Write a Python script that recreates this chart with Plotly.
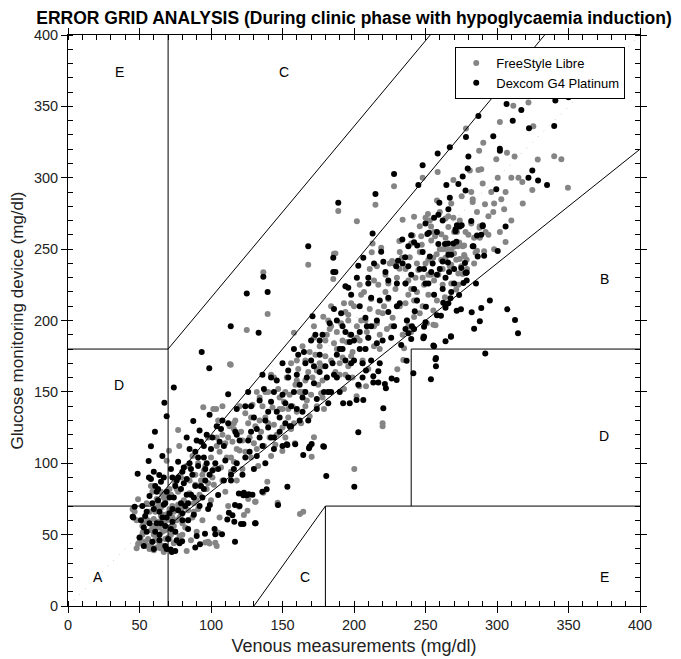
import plotly.graph_objects as go

# ---------------- data (mg/dl) ----------------
libre_venous = [
    45.2, 48, 49, 50.6, 49, 48, 46.6, 52.3, 52, 49.9,
    55, 57, 60, 64.6, 67, 67, 53, 54, 56, 58,
    59, 60, 61, 62, 63, 64, 65, 66, 67, 68,
    69, 70, 71, 72, 73, 74, 55, 57, 59, 62,
    64, 66, 68, 70, 72, 58, 61, 63, 65, 67,
    71, 73, 74, 75, 76, 77, 78, 79, 80, 81,
    82, 83, 84, 85, 86, 87, 88, 89, 90, 91,
    92, 93, 94, 95, 96, 97, 98, 99, 100, 101,
    103, 104, 105, 76, 78, 80, 83, 85, 87, 89,
    69, 70.6, 77, 77.8, 65, 59, 94.6, 101.6, 103.6, 91,
    102, 104, 106, 107, 108, 110, 111, 112, 113, 114,
    115, 116, 117, 118, 119.6, 120, 121, 122, 123, 124,
    125.5, 126, 127, 128, 129, 130.8, 131, 132, 133, 134,
    135, 136.6, 137, 138, 139.4, 140, 141, 142, 143, 144,
    145, 146.6, 146.6, 147, 148, 149.9, 150, 151, 152, 153,
    113.8, 113.3, 125, 139.6, 136.6, 116, 105, 131.2, 98, 108,
    154, 155, 156, 157, 158, 158.7, 159, 160, 161, 162.2,
    163, 164.5, 165, 166, 167, 168, 169, 170.4, 171, 172,
    173, 174, 175, 176, 177, 178, 178.5, 179, 180, 181,
    182, 183, 184, 185.5, 186, 187, 188, 189, 190, 191,
    192, 193, 194, 195, 196, 197, 198, 199, 200.2, 201.8,
    202, 203.7, 204, 205, 206, 207, 208.4, 209, 210, 211,
    212.4, 213, 214, 215, 216, 217, 218, 219, 220, 220,
    221, 222, 223, 224, 225, 226.6, 227, 228, 229, 230.3,
    231.7, 231.8, 232, 233.5, 234, 234.5, 235, 236, 237, 238,
    239, 240, 241, 242, 242, 243, 244, 245, 246, 247,
    247.4, 248, 248.5, 249, 250, 251, 251.7, 252, 253, 253.9,
    255.4, 255.5, 255.5, 256.7, 257, 257.8, 258.5, 259, 260, 261,
    261, 262, 263.6, 264, 265, 266, 266, 267, 268, 268,
    269.5, 269.5, 270.4, 271.5, 271.5, 272.7, 273, 273, 273.6, 275,
    275.3, 276, 276, 277, 277, 277.3, 278.3, 278.8, 280, 281,
    282, 282, 283, 283, 285, 286, 287, 287.5, 287.8, 288,
    289, 290.4, 291, 291.6, 294, 297.4, 299.5, 300.5, 302, 306,
    307, 311.4, 312.3, 315, 317.7, 322, 324.7, 325.4, 328.5, 340,
    345, 349.6, 296, 303, 310, 318, 292, 284, 298, 305,
    236, 240, 244, 248, 252, 256, 260, 264, 268, 272,
    238, 246, 254, 258, 262, 270, 274, 279, 284, 288,
    160, 166, 172, 178, 184, 190, 196, 202, 208, 214,
    163, 169, 175, 181, 187, 193, 199, 205, 211, 217,
    52, 54, 56, 58, 60, 62, 64, 66, 68, 70,
    72, 74, 76, 78, 80, 82, 84, 86, 88, 90,
    61, 63, 65, 67, 69, 71, 73, 75, 77, 79,
    92, 94, 96, 98, 100, 102, 104, 106, 108, 110,
    112, 116, 120, 124, 128, 132, 136, 140, 144, 148,
    114, 118, 122, 126, 130, 134, 138, 142, 146, 150,
    152, 156, 160, 164, 168, 172, 176, 180, 184, 188,
    154, 158, 162, 166, 170, 174, 178, 182, 186, 190,
    192, 196, 200, 204, 208, 212, 216, 220, 224, 228,
    194, 198, 202, 206, 210, 214, 218, 222, 226, 230,
    232, 236, 240, 244, 248, 252, 256, 260, 264, 268,
    234, 238, 242, 246, 250, 254, 258, 262, 266, 270,
    274, 278, 282, 286, 290, 294, 298, 302, 306, 310,
]
libre_device = [
    67.7, 40.4, 43.5, 47, 74.7, 60, 66, 51.6, 50, 44.6,
    42, 40, 39, 40.5, 38.5, 37.8, 58, 62, 47, 53,
    56, 61, 46, 69, 49, 44, 57, 52, 64, 47,
    60, 55, 68, 50, 62, 44, 72, 66, 80, 75,
    71, 78, 73, 65, 78, 84, 54, 59, 63, 58,
    47, 56, 66, 52, 60, 71, 49, 64, 58, 74,
    55, 38.5, 67, 79, 46, 62, 72, 85, 52, 68,
    78, 88, 60, 95, 44.5, 82, 45, 43.8, 74, 90,
    44.3, 42, 51.5, 82, 91, 69, 98, 88, 105, 92,
    101.8, 108.8, 123.3, 112, 80, 84, 139.2, 138, 138, 100,
    85, 112, 62, 97, 120, 80, 104, 70, 126, 94,
    115, 101, 130, 88, 69.5, 109, 122, 96, 63.7, 135,
    66.7, 75, 118, 104, 141, 73, 126, 110, 98, 146,
    122, 79.4, 112, 132, 87.1, 150, 118, 105, 139, 127,
    113, 72.4, 71, 152, 138, 108.6, 125, 143, 118, 160,
    169, 169.3, 193.3, 204.5, 233.8, 128, 130, 73, 118, 140,
    132, 148, 124, 140, 191.5, 114, 155, 136, 166, 64.4,
    128, 66, 150, 172, 144, 239, 133, 104.6, 160, 118.2,
    176, 140, 155, 182, 149, 168, 202.7, 138, 186, 160,
    150, 194, 172, 229, 246.8, 247, 180, 276.7, 162, 198,
    174, 152, 206, 185, 168, 190, 212, 178, 96, 147,
    269.5, 154, 186, 200, 172, 220, 154, 192, 166, 208,
    247.8, 254, 182, 281, 198, 225, 190, 251, 128, 126,
    210, 232, 194, 215, 240, 241.7, 202, 294, 222, 165.8,
    255.7, 236.2, 210, 244, 270.6, 172.3, 180.5, 226, 200, 218,
    244.3, 192, 259.5, 272.7, 202.5, 230, 214, 235.4, 248, 259,
    253, 300, 189, 225, 240, 198, 274.6, 242.6, 270, 265.8,
    244, 197, 207, 259, 196.6, 246.4, 304, 232, 276, 242.6,
    260.5, 225, 216.3, 271.5, 250, 273, 265.5, 238, 239, 282,
    272, 298.4, 251.8, 221.7, 242.6, 252, 225, 233, 254.7, 238,
    287, 252, 232.6, 245.9, 252.6, 245, 334.5, 242.6, 260, 305,
    268, 269, 285, 283, 247.5, 248.8, 305.4, 319, 265, 266,
    306, 324.6, 248.5, 281.4, 273, 276, 313, 300, 339, 255,
    317.6, 350.5, 314.8, 300, 297, 352.8, 291.4, 336, 312.7, 315,
    313, 293, 290, 285, 270, 282, 262, 258, 250, 278,
    212, 222, 240, 230, 218, 228, 236, 244, 226, 262,
    196, 205, 232, 214, 250, 247, 243, 236, 240, 258,
    172, 158, 188, 158, 196, 180, 204, 196, 180, 228,
    150, 178, 166, 190, 164, 212, 160, 218, 236, 206,
    56, 45, 60, 43, 50, 41, 55, 42, 53, 48,
    61, 56, 68, 62, 50, 72, 60, 78, 66, 74,
    66, 73, 69, 76, 78, 82, 70, 86, 80, 90,
    84, 92, 98, 86, 104, 96, 118, 108, 88, 114,
    118, 124, 140, 108, 132, 150, 140, 128, 160, 146,
    104, 110, 116, 128, 114, 130, 150, 162, 120, 138,
    150, 170, 158, 182, 164, 196, 170, 175, 210, 192,
    138, 128, 150, 140, 148, 165, 146, 200, 184, 170,
    186, 200, 210, 225, 200, 215, 238, 205, 226, 240,
    162, 175, 188, 170, 188, 196, 180, 220, 196, 230,
    248, 236, 254, 220, 210, 232, 262, 250, 258, 250,
    190, 228, 214, 266, 272, 256, 284, 236, 248, 262,
    270, 262, 290, 276, 296, 260, 282, 262, 290, 300,
]

dexcom_venous = [
    45.7, 46.6, 45.2, 48.7, 53, 56.4, 56.6, 58, 58, 60.8,
    63.8, 67.4, 69, 74, 73, 69, 71.8, 72.6, 75, 79.8,
    50, 52, 54, 55, 57, 59, 60, 61, 62, 63,
    64, 65, 66, 67, 68, 69, 70, 71, 72, 73,
    74, 75, 76, 77, 78, 60, 62, 64, 66, 68,
    79, 80, 81, 82, 83, 84, 85, 86, 87.6, 88,
    89, 90, 91, 92.3, 93, 93.5, 94, 95, 95.8, 96,
    97, 98, 98.8, 99.2, 100, 101, 102.5, 103, 104, 105,
    77, 80, 83, 86, 89, 92, 95, 99, 84, 90,
    106, 107.7, 108, 109, 110, 111.4, 112, 112.5, 113.8, 115,
    116.3, 116.8, 116.8, 117, 119.5, 120, 121, 122.6, 122.7, 123,
    124, 125, 125, 126.4, 127, 129, 130, 130.8, 131.2, 133.3,
    134, 135.9, 136.6, 137, 138.9, 139.6, 140, 142, 144, 146,
    146.9, 148, 150, 153, 153.4, 153.4, 154, 156, 158.9, 118,
    114, 118, 126, 132, 138, 142, 128, 136, 144, 150,
    160, 162, 164.5, 165, 166, 168, 168.5, 169, 170.4, 171,
    172, 174, 176, 178.5, 179, 180.6, 181, 183, 185.5, 185.5,
    187, 188, 189, 190, 192.4, 194, 196, 197, 198, 200.2,
    201.8, 203, 203, 204, 206.5, 206.5, 208, 208.4, 210, 212,
    213, 213.5, 213.5, 215, 217, 217, 219, 220.5, 220.5, 221.6,
    155, 161, 167, 173, 179, 185, 191, 197, 203, 209,
    222.3, 224, 226.3, 228, 229.5, 229.8, 230.8, 233, 233.8, 235.8,
    236, 236.8, 237, 238, 238, 240, 240, 240.5, 241.5, 242,
    242, 242.5, 244.2, 245, 248, 248.5, 249, 249, 249, 250,
    250.3, 251.3, 252.4, 253, 253.8, 255, 255.5, 256, 256, 257,
    257.3, 257.3, 258, 258.5, 259, 259, 259.7, 260.8, 262, 262.4,
    263.6, 264, 264, 264, 264.6, 265.7, 265.8, 266, 266.5, 267,
    267, 267.5, 267.8, 267.8, 268, 269.5, 271, 271, 271.6, 271.8,
    272, 273, 273.5, 274, 274.8, 275, 275.3, 276, 276.5, 277.6,
    278, 278, 278.3, 278.5, 278.8, 278.8, 279.5, 280, 282, 282.3,
    283, 283.5, 284, 285.3, 286, 286.5, 287, 288, 289, 289,
    290, 290, 291, 291.8, 295, 297.4, 299.5, 300.5, 302, 302,
    306, 306.7, 307.2, 311, 312.6, 314.7, 317, 322.4, 324.7, 328.7,
    335, 340, 340.8, 350, 322, 258, 266, 262, 270, 250,
    152, 158, 164, 170, 176, 182, 188, 194, 200, 206,
    212, 218, 224, 230, 186, 192, 198, 204, 210, 216,
    51, 53, 55, 57, 59, 61, 63, 65, 67, 69,
    71, 73, 75, 77, 79, 81, 83, 85, 87, 89,
    60, 64, 68, 72, 76, 80, 84, 88, 92, 96,
    91, 93, 95, 97, 99, 101, 103, 105, 107, 109,
    112, 116, 120, 124, 128, 132, 136, 140, 144, 148,
    114, 118, 122, 126, 130, 134, 138, 142, 146, 150,
    152, 156, 160, 164, 168, 172, 176, 180, 184, 188,
    154, 158, 162, 166, 170, 174, 178, 182, 186, 190,
    192, 196, 200, 204, 208, 212, 216, 220, 224, 228,
    194, 198, 202, 206, 210, 214, 218, 222, 226, 230,
    232, 236, 240, 244, 248, 252, 256, 260, 264, 268,
    234, 238, 242, 246, 250, 254, 258, 262, 266, 270,
]
dexcom_device = [
    62, 69.6, 62.6, 92.7, 55, 101.6, 90, 89, 111.9, 122,
    91.8, 142.4, 133, 153, 90, 40, 39.5, 37.8, 38.5, 45.3,
    48, 70, 63, 52, 77, 45, 68, 84, 58, 74,
    50, 87, 62, 71, 56, 80, 47, 65, 96, 59,
    76, 52, 88, 67, 44, 94, 80, 66, 105, 72,
    82, 60, 97, 70, 89, 54, 110, 78, 129.6, 64,
    41, 49, 98, 43.2, 115, 178, 76, 104, 50.6, 88,
    120, 68, 166.5, 70.7, 110, 95, 54, 50.3, 126, 77.8,
    101, 94, 118, 96, 108, 123, 82, 134, 72, 116,
    115, 50.3, 130, 88, 102, 60.6, 148.3, 65.3, 196, 63.5,
    59, 45, 70.7, 122, 78.8, 70, 57.4, 77.6, 57.5, 79.4,
    140, 77.6, 219, 78.2, 108, 78, 132, 57.9, 58, 191.5,
    118, 80, 230.7, 152, 81.7, 220, 125, 143, 110, 158,
    70.7, 132, 148, 113.3, 83.6, 112.8, 165, 140, 113.3, 100,
    92, 138, 150, 105, 100, 160, 122, 162, 118, 170,
    138, 155, 105.8, 178, 150, 252, 110.5, 111.7, 113.5, 203,
    168, 145, 186, 111.9, 111.6, 91, 160, 198, 244, 234,
    234, 176, 282.5, 150, 142, 192, 223, 142, 170, 83.6,
    144.3, 121.7, 155, 180, 144.3, 244, 202, 165, 188, 216,
    261, 156.5, 161, 288.6, 156.5, 164.5, 248.2, 138.5, 241.2, 155.5,
    126, 176, 160, 190, 150, 170, 205, 185, 238.4, 196,
    152.5, 206, 159.4, 302.6, 238, 158.3, 241.9, 182.8, 256.8, 244.3,
    194, 171.8, 200, 191, 238, 259.7, 187, 196, 163, 194,
    254.8, 206.5, 252.5, 295, 308.7, 187.5, 236, 188.7, 195.7, 198.8,
    209.7, 260.6, 261.5, 244.8, 158.8, 240, 182.4, 182, 272, 172.8,
    173.7, 168, 203.6, 317, 274, 253.6, 282.5, 203.4, 241.4, 212.5,
    253.6, 209, 185.4, 210.6, 295, 240.7, 254, 212, 234, 321.3,
    286, 215.5, 188.7, 189, 220, 254, 264, 262.5, 255.2, 206.9,
    266.7, 295.6, 217.8, 265.8, 207.8, 236.7, 266.7, 300.8, 226.3, 240.3,
    291, 233.5, 328.5, 233.5, 228, 233.7, 306.5, 314.8, 269.7, 205.7,
    252, 252, 194.3, 226, 259.5, 244.8, 343.3, 199.4, 208.8, 260,
    266, 266.7, 245.4, 176.8, 214, 329, 292, 248.7, 319, 320.4,
    265.8, 351.7, 207.8, 340, 200.4, 191, 347.5, 334.6, 305, 298,
    295, 336.3, 354.2, 356.4, 300, 232, 246, 222, 236, 226,
    128, 150, 136, 172, 164, 150, 200, 172, 186, 170,
    196, 214, 228, 210, 162, 180, 218, 192, 230, 184,
    60, 42, 66, 58, 72, 52, 82, 58, 90, 62,
    76, 68, 84, 90, 72, 86, 78, 100, 92, 84,
    40, 46, 42, 54, 46, 65, 60, 76, 70, 96,
    104, 84, 112, 100, 92, 118, 100, 96, 124, 112,
    128, 96, 116, 104, 140, 124, 112, 136, 150, 122,
    88, 120, 92, 116, 96, 144, 130, 118, 136, 112,
    142, 126, 162, 146, 130, 156, 176, 168, 150, 160,
    160, 180, 130, 170, 186, 138, 190, 142, 208, 180,
    196, 160, 172, 210, 180, 172, 200, 186, 216, 196,
    224, 190, 230, 160, 226, 240, 170, 234, 188, 226,
    212, 226, 232, 214, 248, 226, 218, 236, 230, 246,
    240, 252, 222, 236, 268, 234, 262, 270, 278, 226,
]

assert len(libre_venous) == len(libre_device), (len(libre_venous), len(libre_device))
assert len(dexcom_venous) == len(dexcom_device), (len(dexcom_venous), len(dexcom_device))

series_names = ["FreeStyle Libre", "Dexcom G4 Platinum"]

# Clarke error grid zone boundaries (x0, y0, x1, y1)
zone_segments = [
    (0, 70, 175 / 3, 70),
    (175 / 3, 70, 400 / 1.2, 400),
    (70, 84, 70, 400),
    (0, 180, 70, 180),
    (70, 180, 70 + 220 / 1.2, 400),
    (70, 0, 70, 56),
    (70, 56, 400, 320),
    (180, 0, 180, 70),
    (180, 70, 400, 70),
    (240, 70, 240, 180),
    (240, 180, 400, 180),
    (130, 0, 180, 70),
]
zone_labels = ["E", "C", "D", "B", "D", "A", "C", "E"]
zone_label_x = [36, 151, 36, 375, 375, 21, 166, 375]
zone_label_y = [374, 374, 155, 229, 119, 20, 20, 20]

# ---------------- figure ----------------
FONT = "Arial, Liberation Sans, sans-serif"
fig = go.Figure()

fig.add_trace(go.Scatter(
    x=libre_venous, y=libre_device, mode="markers", name=series_names[0],
    marker=dict(color="#858585", size=6, line=dict(width=0)),
))
fig.add_trace(go.Scatter(
    x=dexcom_venous, y=dexcom_device, mode="markers", name=series_names[1],
    marker=dict(color="#000000", size=6, line=dict(width=0)),
))

shapes = [dict(type="line", xref="x", yref="y", x0=0, y0=0, x1=400, y1=400,
               line=dict(color="#c4c4c4", width=1, dash="1px,7px"), layer="below")]
for (x0, y0, x1, y1) in zone_segments:
    shapes.append(dict(type="line", xref="x", yref="y", x0=x0, y0=y0, x1=x1, y1=y1,
                       line=dict(color="#000000", width=1), layer="above"))

annotations = [
    dict(x=lx, y=ly, text=t, showarrow=False, xref="x", yref="y",
         font=dict(family=FONT, size=14, color="#000"))
    for t, lx, ly in zip(zone_labels, zone_label_x, zone_label_y)
]

axis_common = dict(
    range=[0, 400], dtick=50, showgrid=False, zeroline=False, automargin=False,
    showline=True, linecolor="#000", linewidth=1, mirror="ticks",
    ticks="outside", ticklen=6, tickcolor="#000", tickwidth=1,
    minor=dict(ticks="inside", dtick=10, ticklen=5, tickcolor="#000", tickwidth=1, showgrid=False),
    tickfont=dict(family=FONT, size=14.5, color="#222"),
)

# the page body adds an 8 px offset, so the figure is 8 px smaller than the window
fig.update_layout(
    width=673, height=651,
    margin=dict(l=60, r=41, t=27, b=53),
    paper_bgcolor="white", plot_bgcolor="white",
    title=dict(text="<b>ERROR GRID ANALYSIS (During clinic phase with hypoglycaemia induction)</b>",
               x=0.5, xref="paper", xanchor="center", y=0.985, yref="container", yanchor="middle",
               font=dict(family=FONT, size=17.5, color="#000")),
    xaxis=dict(axis_common, title=dict(text="Venous measurements (mg/dl)", standoff=6,
                                       font=dict(family=FONT, size=18, color="#222"))),
    yaxis=dict(axis_common, title=dict(text="Glucose monitoring device (mg/dl)", standoff=8,
                                       font=dict(family=FONT, size=17, color="#222"))),
    legend=dict(x=0.677, y=0.979, xanchor="left", yanchor="top",
                bgcolor="white", bordercolor="#000", borderwidth=1,
                font=dict(family=FONT, size=13, color="#000"),
                itemwidth=30, tracegroupgap=0),
    shapes=shapes, annotations=annotations,
)

fig.write_html("out.html")
